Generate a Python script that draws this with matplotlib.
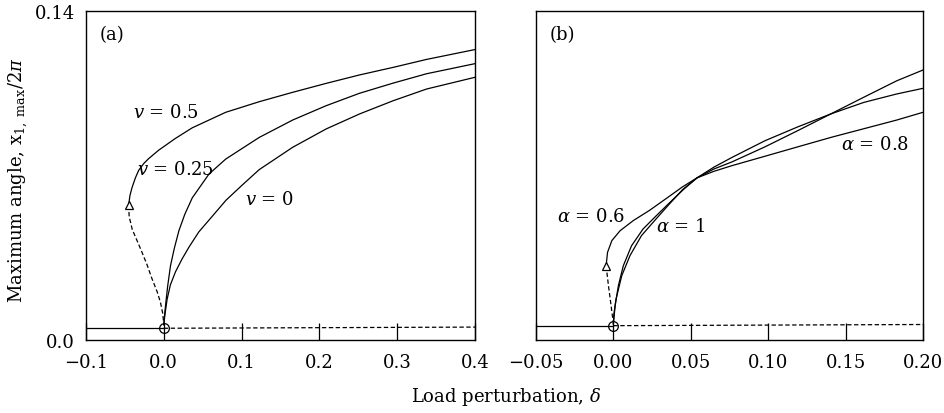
import matplotlib
matplotlib.use("Agg")
import matplotlib.pyplot as plt

plt.rcParams['font.family'] = ['DejaVu Serif']
plt.rcParams['mathtext.fontset'] = 'dejavuserif'

# ---- panel (a): effect of v ----
base_a_x = [-0.1, 0.0]
base_a_y = [0.005, 0.005]
base_a_dash_x = [0.0, 0.4]
base_a_dash_y = [0.005, 0.0055]

v05_x = [-0.0452, -0.0435, -0.0409, -0.0365, -0.0323, -0.0255, -0.0194, -0.0065, 0.015,
         0.0366, 0.0796, 0.1226, 0.1656, 0.2086, 0.2516, 0.2946, 0.3377, 0.4]
v05_y = [0.0574, 0.0615, 0.0648, 0.069, 0.0722, 0.0752, 0.0772, 0.0808, 0.0858,
         0.0903, 0.0969, 0.1014, 0.1054, 0.1092, 0.1128, 0.116, 0.1194, 0.1236]
v05_dash_x = [-0.0452, -0.0445, -0.0405, -0.034, -0.028, -0.0215, -0.0151, -0.0085,
              -0.0043, -0.0015, 0.0]
v05_dash_y = [0.0574, 0.0525, 0.047, 0.042, 0.0373, 0.032, 0.026, 0.0205,
              0.016, 0.0115, 0.0068]

v025_x = [0.0, 0.0008, 0.0022, 0.005, 0.0086, 0.0135, 0.0194, 0.027, 0.0366, 0.058,
          0.0796, 0.1226, 0.1656, 0.2086, 0.2516, 0.2946, 0.3377, 0.4]
v025_y = [0.0065, 0.010, 0.0146, 0.023, 0.0316, 0.039, 0.0465, 0.0535, 0.0605, 0.0706,
          0.077, 0.0862, 0.0936, 0.0997, 0.105, 0.1093, 0.1133, 0.1176]

v0_x = [0.0, 0.0015, 0.0043, 0.0085, 0.015, 0.0235, 0.0323, 0.045, 0.058, 0.08, 0.101,
        0.1226, 0.1656, 0.2086, 0.2516, 0.2946, 0.3377, 0.4]
v0_y = [0.0065, 0.011, 0.0174, 0.0235, 0.029, 0.0345, 0.0395, 0.046, 0.051, 0.0595,
        0.066, 0.0725, 0.082, 0.0898, 0.0962, 0.1018, 0.1068, 0.1118]

# ---- panel (b): effect of alpha ----
base_b_x = [-0.05, 0.0]
base_b_y = [0.0061, 0.0061]
base_b_dash_x = [0.0, 0.2]
base_b_dash_y = [0.0061, 0.0066]

a06_x = [-0.0047, -0.0038, -0.001, 0.0043, 0.0128, 0.0234, 0.0341, 0.0447, 0.054, 0.065,
         0.0766, 0.0979, 0.1191, 0.1404, 0.1617, 0.183, 0.2]
a06_y = [0.0316, 0.0373, 0.0423, 0.0465, 0.0508, 0.0552, 0.0602, 0.0652, 0.069, 0.0736,
         0.0777, 0.0848, 0.0907, 0.0962, 0.1011, 0.1047, 0.1071]
a06_dash_x = [-0.0047, -0.0032, -0.0015, 0.0]
a06_dash_y = [0.0316, 0.0231, 0.0146, 0.0068]

a08_x = [0.0, 0.0011, 0.0032, 0.0064, 0.0117, 0.0191, 0.0277, 0.0383, 0.046, 0.054,
         0.065, 0.0766, 0.0979, 0.1191, 0.1404, 0.1617, 0.183, 0.2]
a08_y = [0.0068, 0.0146, 0.0231, 0.0316, 0.0401, 0.0472, 0.0529, 0.0597, 0.0645, 0.069,
         0.0718, 0.0742, 0.0782, 0.0822, 0.0862, 0.0899, 0.0936, 0.0969]

a1_x = [0.0, 0.0003, 0.0017, 0.0054, 0.0107, 0.0181, 0.0266, 0.0362, 0.0447, 0.054,
        0.065, 0.0766, 0.0979, 0.1191, 0.1404, 0.1617, 0.183, 0.2]
a1_y = [0.0068, 0.011, 0.0174, 0.0274, 0.0359, 0.0444, 0.0508, 0.0579, 0.064, 0.069,
        0.0728, 0.0758, 0.0822, 0.0891, 0.0962, 0.1033, 0.1103, 0.1149]

lw = 0.9
dash = (0, (3.5, 2))

fig = plt.figure(figsize=(9.44, 4.14), dpi=100)
ax1 = fig.add_axes([0.0911, 0.1763, 0.4121, 0.7947])
ax2 = fig.add_axes([0.5678, 0.1763, 0.4100, 0.7947])

# panel (a)
ax1.plot(base_a_x, base_a_y, color='black', lw=lw)
ax1.plot(base_a_dash_x, base_a_dash_y, color='black', lw=lw, linestyle=dash)
ax1.plot(v05_x, v05_y, color='black', lw=lw)
ax1.plot(v05_dash_x, v05_dash_y, color='black', lw=lw, linestyle=dash)
ax1.plot(v025_x, v025_y, color='black', lw=lw)
ax1.plot(v0_x, v0_y, color='black', lw=lw)
ax1.plot(v05_x[0], v05_y[0], marker='^', mfc='white', mec='black', ms=6, mew=0.9)
ax1.plot(0.0, base_a_y[-1], marker='o', mfc='none', mec='black', ms=7, mew=0.9)

ax1.text(-0.0396, 0.097, r'$v$ = 0.5', fontsize=13, va='center')
ax1.text(-0.0344, 0.0728, r'$v$ = 0.25', fontsize=13, va='center')
ax1.text(0.1044, 0.060, r'$v$ = 0', fontsize=13, va='center')
ax1.text(0.036, 0.93, '(a)', transform=ax1.transAxes, fontsize=13, va='center')

ax1.set_xlim(-0.1, 0.4)
ax1.set_ylim(0.0, 0.14)
ax1.set_xticks([-0.1, 0.0, 0.1, 0.2, 0.3, 0.4])
ax1.set_xticklabels(['\u22120.1', '0.0', '0.1', '0.2', '0.3', '0.4'])
ax1.set_yticks([0.0, 0.14])
ax1.set_yticklabels(['0.0', '0.14'])
ax1.tick_params(axis='x', direction='in', length=12, width=0.9, labelsize=13, pad=9)
ax1.tick_params(axis='y', length=0, labelsize=13, pad=8)

# panel (b)
ax2.plot(base_b_x, base_b_y, color='black', lw=lw)
ax2.plot(base_b_dash_x, base_b_dash_y, color='black', lw=lw, linestyle=dash)
ax2.plot(a06_x, a06_y, color='black', lw=lw)
ax2.plot(a06_dash_x, a06_dash_y, color='black', lw=lw, linestyle=dash)
ax2.plot(a08_x, a08_y, color='black', lw=lw)
ax2.plot(a1_x, a1_y, color='black', lw=lw)
ax2.plot(a06_x[0], a06_y[0], marker='^', mfc='white', mec='black', ms=6, mew=0.9)
ax2.plot(0.0, base_b_y[-1], marker='o', mfc='none', mec='black', ms=7, mew=0.9)

ax2.text(-0.0364, 0.0529, r'$\alpha$ = 0.6', fontsize=13, va='center')
ax2.text(0.0275, 0.0486, r'$\alpha$ = 1', fontsize=13, va='center')
ax2.text(0.1468, 0.0834, r'$\alpha$ = 0.8', fontsize=13, va='center')
ax2.text(0.036, 0.93, '(b)', transform=ax2.transAxes, fontsize=13, va='center')

ax2.set_xlim(-0.05, 0.2)
ax2.set_ylim(0.0, 0.14)
ax2.set_xticks([-0.05, 0.0, 0.05, 0.1, 0.15, 0.2])
ax2.set_xticklabels(['\u22120.05', '0.00', '0.05', '0.10', '0.15', '0.20'])
ax2.set_yticks([])
ax2.tick_params(axis='x', direction='in', length=12, width=0.9, labelsize=13, pad=9)

for ax in (ax1, ax2):
    for s in ax.spines.values():
        s.set_linewidth(1.0)

fig.text(0.019, 0.565, r'Maximum angle, $\mathrm{x}_{1,\ \mathrm{max}}/2\pi$',
         rotation=90, fontsize=13, va='center', ha='center')
fig.text(0.536, 0.041, r'Load perturbation, $\delta$', fontsize=13, ha='center',
         va='center')

fig.savefig('out.png', dpi=100)
